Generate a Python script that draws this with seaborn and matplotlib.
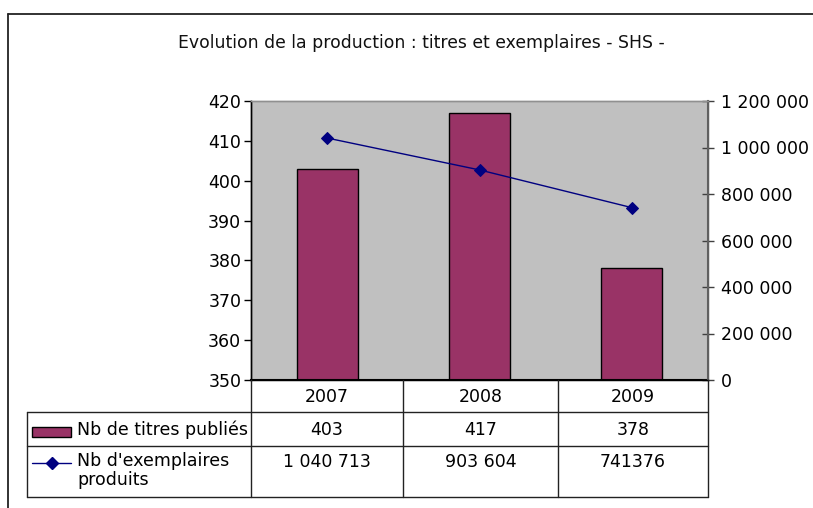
import matplotlib
matplotlib.use("Agg")
import matplotlib.pyplot as plt
from matplotlib.lines import Line2D
from matplotlib.patches import Rectangle
from matplotlib.ticker import FuncFormatter, FixedLocator
import seaborn as sns
import pandas as pd

# Data
years = ["2007", "2008", "2009"]
titres = [403, 417, 378]
exemplaires = [1040713, 903604, 741376]
titres_labels = ["403", "417", "378"]
exemplaires_labels = ["1 040 713", "903 604", "741376"]
serie_titres = "Nb de titres publiés"
serie_exemplaires = "Nb d'exemplaires\nproduits"
title = "Evolution de la production : titres et exemplaires - SHS -"

BAR = "#993366"
LINE = "#000080"
PLOT_BG = "#C0C0C0"
FS = 12.5

sns.set_theme(style="white")
plt.rcParams["font.family"] = ["DejaVu Sans"]
plt.rcParams["text.color"] = "black"
plt.rcParams["ytick.labelcolor"] = "black"
plt.rcParams["xtick.labelcolor"] = "black"

W, H = 813, 508
fig = plt.figure(figsize=(W / 100, H / 100), dpi=100)
fig.patch.set_facecolor("white")


def fx(px):
    return px / W


def fy(py):
    return 1 - py / H


# plot area geometry (pixels from the top-left corner)
L, R, T, B = 251, 708, 101, 380
ax = fig.add_axes([fx(L), fy(B), fx(R) - fx(L), fy(T) - fy(B)])
ax.set_facecolor(PLOT_BG)

df = pd.DataFrame({"annee": years, "titres": titres, "exemplaires": exemplaires})

sns.barplot(data=df, x="annee", y="titres", color=BAR, edgecolor="black",
            linewidth=1.0, width=0.4, saturation=1, ax=ax, zorder=2)
ax.set_ylim(350, 420)
ax.set_xlim(-0.5, 2.5)
ax.yaxis.set_major_locator(FixedLocator(list(range(350, 421, 10))))
ax.set_xlabel("")
ax.set_ylabel("")
ax.set_xticks([])
ax.tick_params(axis="y", direction="out", length=5, width=1, color="black",
               labelsize=FS, labelcolor="black", pad=2, left=True)

ax2 = ax.twinx()
sns.pointplot(data=df, x="annee", y="exemplaires", color=LINE, markers="D",
              markersize=6, linewidth=1.0, ax=ax2, zorder=3)
ax2.set_xlim(-0.5, 2.5)
ax2.set_ylim(0, 1200000)
ax2.yaxis.set_major_locator(FixedLocator(list(range(0, 1200001, 200000))))
ax2.yaxis.set_major_formatter(
    FuncFormatter(lambda v, p: f"{int(v):,}".replace(",", " ")))
ax2.set_xlabel("")
ax2.set_ylabel("")
ax2.set_xticks([])
ax2.tick_params(axis="y", direction="inout", length=8, width=1, color="#404040",
                labelsize=FS, labelcolor="black", pad=5, right=True)

for a in (ax, ax2):
    a.spines["left"].set_color("black")
    a.spines["bottom"].set_color("black")
    a.spines["top"].set_color("#909090")
    a.spines["right"].set_color("#606060")
    for s in a.spines.values():
        s.set_linewidth(1.0)
ax2.spines["right"].set_linewidth(1.5)
ax.spines["bottom"].set_linewidth(1.5)

fig.text(fx(421), fy(43), title, ha="center", va="center", fontsize=12.4,
         color="#111111")

# chart area frame
fig.add_artist(Line2D([fx(8), fx(W)], [fy(14), fy(14)], color="#222222", lw=1.3))
fig.add_artist(Line2D([fx(8), fx(8)], [fy(14), fy(H)], color="#222222", lw=1.3))

# data table below the plot
cols = [251, 403, 558, 708]
rows = [380, 412, 446, 497]
tbl_left = 27
tc = "#222222"


def hline(x0, x1, y):
    fig.add_artist(Line2D([fx(x0), fx(x1)], [fy(y), fy(y)], color=tc, lw=1.0))


def vline(x, y0, y1):
    fig.add_artist(Line2D([fx(x), fx(x)], [fy(y0), fy(y1)], color=tc, lw=1.0))


for c in cols:
    vline(c, rows[0], rows[3])
vline(tbl_left, rows[1], rows[3])
for r in rows[1:]:
    hline(tbl_left, cols[-1], r)

centers = [(cols[i] + cols[i + 1]) / 2 for i in range(len(years))]
for cx, yr, t, e in zip(centers, years, titres_labels, exemplaires_labels):
    fig.text(fx(cx), fy(397), yr, ha="center", va="center", fontsize=FS, color="black")
    fig.text(fx(cx), fy(430), t, ha="center", va="center", fontsize=FS, color="black")
    fig.text(fx(cx), fy(462), e, ha="center", va="center", fontsize=FS, color="black")

# legend keys in the table's first column
fig.add_artist(Rectangle((fx(32), fy(437)), fx(71) - fx(32), fy(427) - fy(437),
                         facecolor=BAR, edgecolor="black", lw=1.0))
fig.text(fx(77), fy(430), serie_titres, ha="left", va="center", fontsize=FS, color="black")
fig.add_artist(Line2D([fx(32), fx(71)], [fy(463), fy(463)], color=LINE, lw=1.0))
fig.add_artist(Line2D([fx(52)], [fy(463)], color=LINE, marker="D", markersize=6,
                      linestyle="none"))
fig.text(fx(77), fy(452), serie_exemplaires, ha="left", va="top", fontsize=FS,
         color="black", linespacing=1.05)

fig.savefig("out.png", dpi=100)
